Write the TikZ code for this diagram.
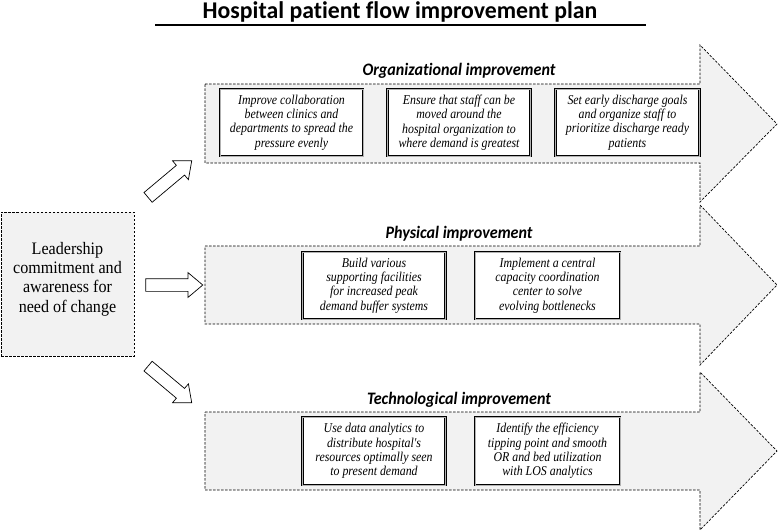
\documentclass[tikz,border=0pt]{standalone}
\usepackage{fontspec}
\setmainfont{Liberation Serif}
\newfontfamily\itemfont[FakeStretch=0.88]{Liberation Serif}
\newfontfamily\leadfont[FakeStretch=0.92]{Liberation Serif}
\newfontfamily\labfont[FakeStretch=0.92, Ligatures=NoCommon]{Carlito}
\newfontfamily\titfont[FakeStretch=0.99, Ligatures=NoCommon]{Carlito}
\usetikzlibrary{shapes.arrows}
\definecolor{arrowfill}{HTML}{F2F2F2}
\begin{document}
\begin{tikzpicture}[x=1pt,y=-1pt,
  bigarrow/.style={draw=black, fill=arrowfill, dash pattern=on 2.5pt off 1.5pt, line width=0.7pt},
  itembox/.style={draw=black, double=gray!60, double distance=0.7pt, line width=1.1pt, fill=white,
    minimum width=143pt, minimum height=67pt, inner sep=0pt, align=center,
    font=\itemfont\itshape\fontsize{13.5}{14.4}\selectfont},
  grouplabel/.style={inner sep=0pt, font=\labfont\bfseries\itshape\fontsize{17.5}{20}\selectfont},
  hollowarrow/.style={single arrow, draw=black, fill=white, line width=0.7pt,
    minimum height=57pt, inner xsep=0pt, inner ysep=6pt,
    single arrow head extend=6pt, single arrow tip angle=80},
  leadbox/.style={draw=black, fill=arrowfill, dash pattern=on 2.5pt off 1.5pt, line width=0.7pt,
    minimum width=133pt, minimum height=144pt, inner sep=0pt},
  leadtext/.style={inner sep=0pt, align=center, font=\leadfont\fontsize{17.5}{19.3}\selectfont}
]
\useasboundingbox (0,0) rectangle (779,531);

% title
\node[inner sep=0pt, anchor=base, font=\titfont\bfseries\fontsize{24}{28}\selectfont] (title) at (400,18.5) {Hospital patient flow improvement plan};
\coordinate (ulL) at (155,25);
\coordinate (ulR) at (646,25);
\draw[line width=2.5pt] (ulL) -- (ulR);

% big arrows
\draw[bigarrow] (205,84) -- (700,84) -- (700,45) -- (777,124) -- (700,202) -- (700,163) -- (205,163) -- cycle;
\draw[bigarrow] (205,246) -- (700,246) -- (700,205) -- (777,285) -- (700,365) -- (700,324) -- (205,324) -- cycle;
\draw[bigarrow] (205,412) -- (700,412) -- (700,372) -- (777,451) -- (700,530) -- (700,490) -- (205,490) -- cycle;

\node[grouplabel] (orglab) at (459,71) {Organizational improvement};
\node[grouplabel] (phylab) at (459,234) {Physical improvement};
\node[grouplabel] (teclab) at (459,400) {Technological improvement};

% organizational items
\node[itembox] (o1) at (291.5,122.5) {Improve collaboration\\between clinics and\\departments to spread the\\pressure evenly};
\node[itembox] (o2) at (459,122.5) {Ensure that staff can be\\moved around the\\hospital organization to\\where demand is greatest};
\node[itembox, minimum width=144pt] (o3) at (627.5,122.5) {Set early discharge goals\\and organize staff to\\prioritize discharge ready\\patients};

% physical items
\node[itembox] (p1) at (374,285.5) {Build various\\supporting facilities\\for increased peak\\demand buffer systems};
\node[itembox, minimum width=145pt] (p2) at (547.5,285.5) {Implement a central\\capacity coordination\\center to solve\\evolving bottlenecks};

% technological items
\node[itembox, minimum height=68pt] (t1) at (374,451) {Use data analytics to\\distribute hospital's\\resources optimally seen\\to present demand};
\node[itembox, minimum width=145pt, minimum height=68pt] (t2) at (547.5,451) {Identify the efficiency\\tipping point and smooth\\OR and bed utilization\\with LOS analytics};

% leadership box
\node[leadbox] (lead) at (67.5,284) {};
\node[leadtext] (leadtxt) at (67.5,279) {Leadership\\commitment and\\awareness for\\need of change};

% hollow connector arrows
\node[hollowarrow, rotate=40] (aup) at (167,181.5) {};
\node[hollowarrow] (amid) at (170.5,285) {};
\node[hollowarrow, rotate=-40] (adown) at (167,382) {};
\end{tikzpicture}
\end{document}
